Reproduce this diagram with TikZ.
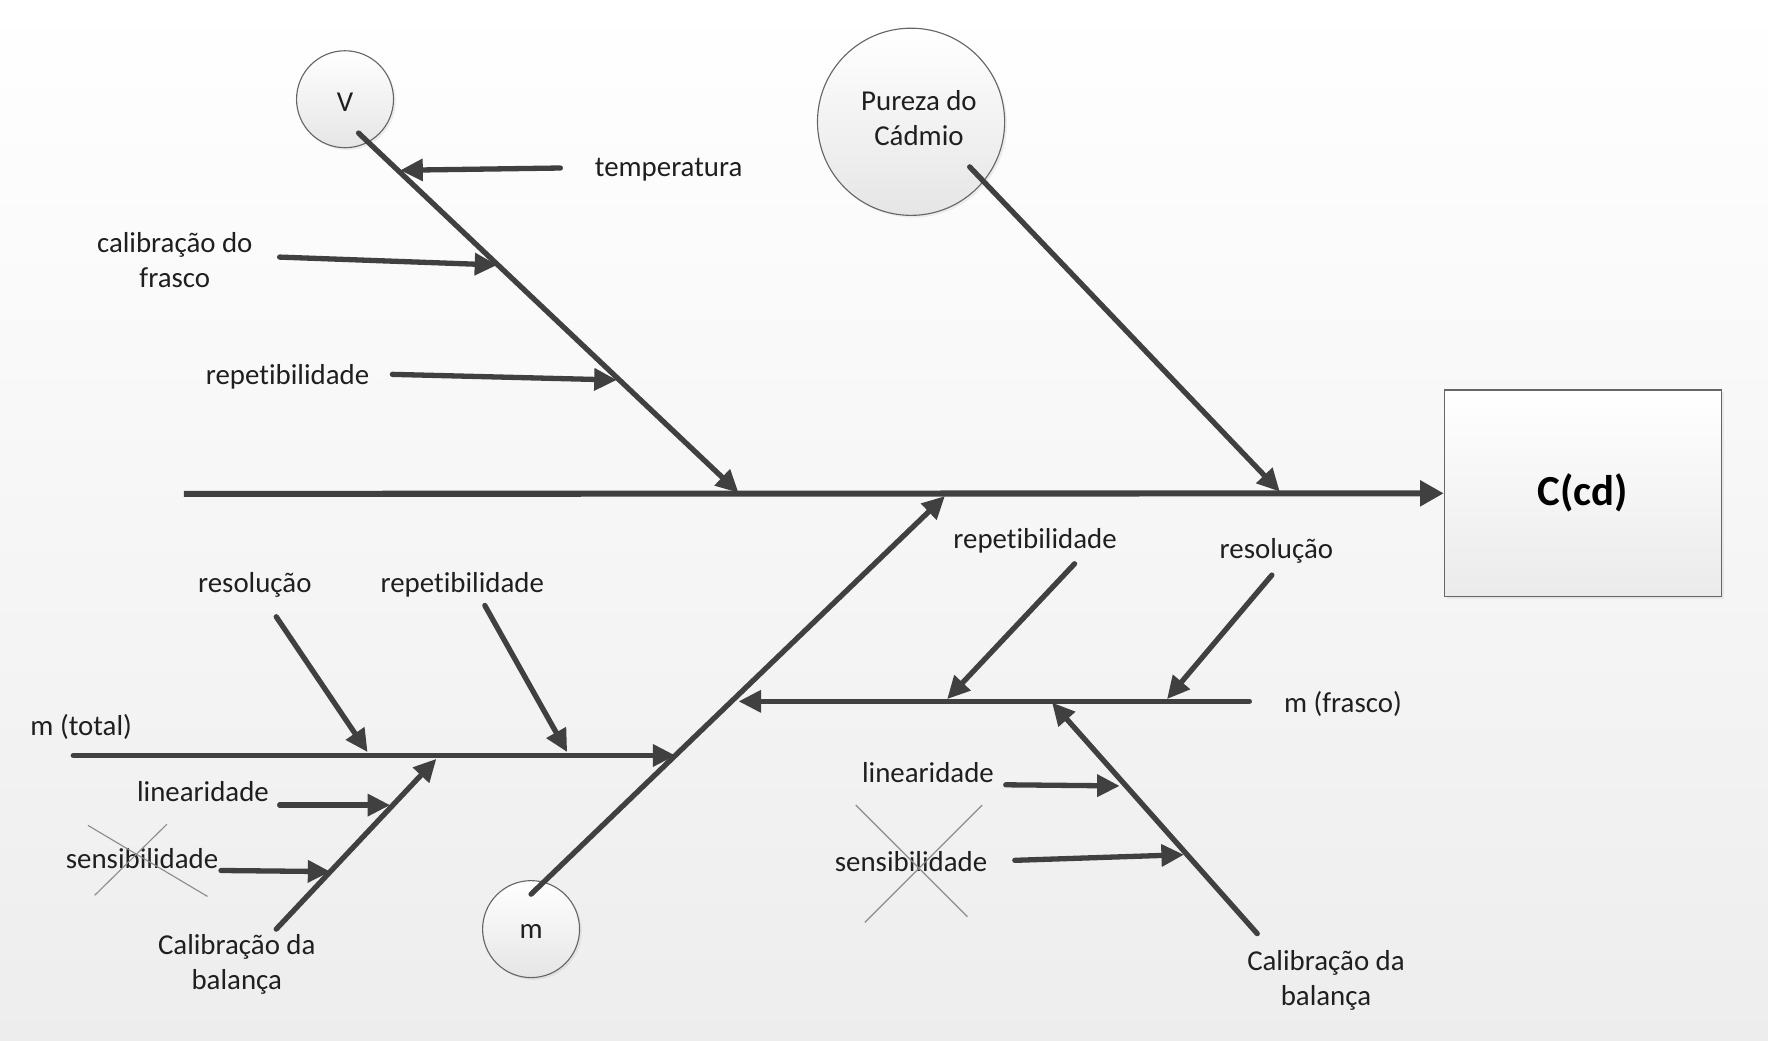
\documentclass[tikz,border=0pt]{standalone}
\usepackage{fontspec}
\setmainfont{Carlito}[Ligatures=NoCommon]
\usetikzlibrary{arrows.meta,shadows}

\begin{document}
\begin{tikzpicture}[x=0.5pt,y=-0.5pt,
  lbl/.style={text=black!88, font=\fontsize{12.8}{15.5}\selectfont, align=center, inner sep=0pt, yshift=-1.2pt},
  bone/.style={draw=black!75, line width=2.35pt, line cap=round, -{Triangle[length=10pt,width=9.5pt]}},
  spine/.style={draw=black!75, line width=2.7pt, -{Triangle[length=10.5pt,width=11pt]}},
  cause/.style={circle, draw=black!60, line width=0.5pt, top color=white, bottom color=black!10,
    drop shadow={opacity=0.12, shadow xshift=1pt, shadow yshift=-1pt}, inner sep=0pt},
  effect/.style={rectangle, draw=black!60, line width=0.6pt, top color=white, bottom color=black!8,
    drop shadow={opacity=0.12, shadow xshift=1pt, shadow yshift=-1pt},
    minimum width=123pt, minimum height=91.5pt, text=black,
    font=\fontsize{19}{22}\selectfont\bfseries},
  strike/.style={draw=black!45, line width=0.5pt}
]
% background
\shade[top color=white, bottom color=black!7] (0,0) rectangle (1568,923);
\useasboundingbox (0,0) rectangle (1568,923);

% effect box and main spine
\node[effect] (eff) at (1404,437.5) {C(cd)};
\coordinate (s0) at (163,438);
\draw[spine] (s0) -- (eff.west);

% ---------- V branch ----------
\node[cause, minimum size=43pt] (V) at (306,88) {};
\node[lbl] (Vt) at (V) {V};
\coordinate (v0) at (318,118);
\coordinate (v1) at (655,437);
\draw[bone] (v0) -- (v1);
\node[lbl] (temp) at (593,148) {temperatura};
\coordinate (temp0) at (497,149);
\coordinate (temp1) at (355,151);
\draw[bone] (temp0) -- (temp1);
\node[lbl] (calf) at (155,228) {calibração do\\frasco};
\coordinate (calf0) at (248,228);
\coordinate (calf1) at (441,235);
\draw[bone] (calf0) -- (calf1);
\node[lbl] (repV) at (255,332) {repetibilidade};
\coordinate (repV0) at (348,332);
\coordinate (repV1) at (547,337);
\draw[bone] (repV0) -- (repV1);

% ---------- Pureza branch ----------
\node[cause, minimum size=83pt] (pur) at (808,108) {};
\node[lbl] (purt) at (815,102) {Pureza do\\Cádmio};
\coordinate (p0) at (860,148);
\coordinate (p1) at (1135,436);
\draw[bone] (p0) -- (p1);

% ---------- m branch ----------
\node[cause, minimum size=43pt] (m) at (471,824) {};
\node[lbl] (mt) at (m) {m};
\coordinate (m0) at (471,793);
\coordinate (m1) at (838,440);
\draw[bone] (m0) -- (m1);

% m (total)
\node[lbl] (mtot) at (72,642) {m (total)};
\coordinate (mt0) at (65,670);
\coordinate (mt1) at (599,670);
\draw[bone] (mt0) -- (mt1);
\node[lbl] (resL) at (226,516) {resolução};
\coordinate (resL0) at (245,547);
\coordinate (resL1) at (326,667);
\draw[bone] (resL0) -- (resL1);
\node[lbl] (repL) at (410,516) {repetibilidade};
\coordinate (repL0) at (430,537);
\coordinate (repL1) at (503,667);
\draw[bone] (repL0) -- (repL1);
\node[lbl] (calL) at (210,853) {Calibração da\\balança};
\coordinate (calL0) at (245,824);
\coordinate (calL1) at (387,673);
\draw[bone] (calL0) -- (calL1);
\node[lbl] (linL) at (180,700) {linearidade};
\coordinate (linL0) at (248,714);
\coordinate (linL1) at (346,714);
\draw[bone] (linL0) -- (linL1);
\node[lbl] (senL) at (126,759) {sensibilidade};
\coordinate (senL0) at (196,772);
\coordinate (senL1) at (293,773);
\draw[bone] (senL0) -- (senL1);
\coordinate (xL1) at (78,732);
\coordinate (xL2) at (184,795);
\coordinate (xL3) at (148,731);
\coordinate (xL4) at (84,794);
\draw[strike] (xL1) -- (xL2);
\draw[strike] (xL3) -- (xL4);

% m (frasco)
\node[lbl] (mfr) at (1191,622) {m (frasco)};
\coordinate (mf0) at (1108,622);
\coordinate (mf1) at (655,622);
\draw[bone] (mf0) -- (mf1);
\node[lbl] (repR) at (918,477) {repetibilidade};
\coordinate (repR0) at (953,500);
\coordinate (repR1) at (840,620);
\draw[bone] (repR0) -- (repR1);
\node[lbl] (resR) at (1132,486) {resolução};
\coordinate (resR0) at (1128,510);
\coordinate (resR1) at (1035,620);
\draw[bone] (resR0) -- (resR1);
\node[lbl] (calR) at (1176,867) {Calibração da\\balança};
\coordinate (calR0) at (1115,828);
\coordinate (calR1) at (933,623);
\draw[bone] (calR0) -- (calR1);
\node[lbl] (linR) at (823,683) {linearidade};
\coordinate (linR0) at (892,696);
\coordinate (linR1) at (993,697);
\draw[bone] (linR0) -- (linR1);
\node[lbl] (senR) at (808,762) {sensibilidade};
\coordinate (senR0) at (900,763);
\coordinate (senR1) at (1050,758);
\draw[bone] (senR0) -- (senR1);
\coordinate (xR1) at (759,714);
\coordinate (xR2) at (858,813);
\coordinate (xR3) at (871,714);
\coordinate (xR4) at (767,818);
\draw[strike] (xR1) -- (xR2);
\draw[strike] (xR3) -- (xR4);
\end{tikzpicture}
\end{document}
